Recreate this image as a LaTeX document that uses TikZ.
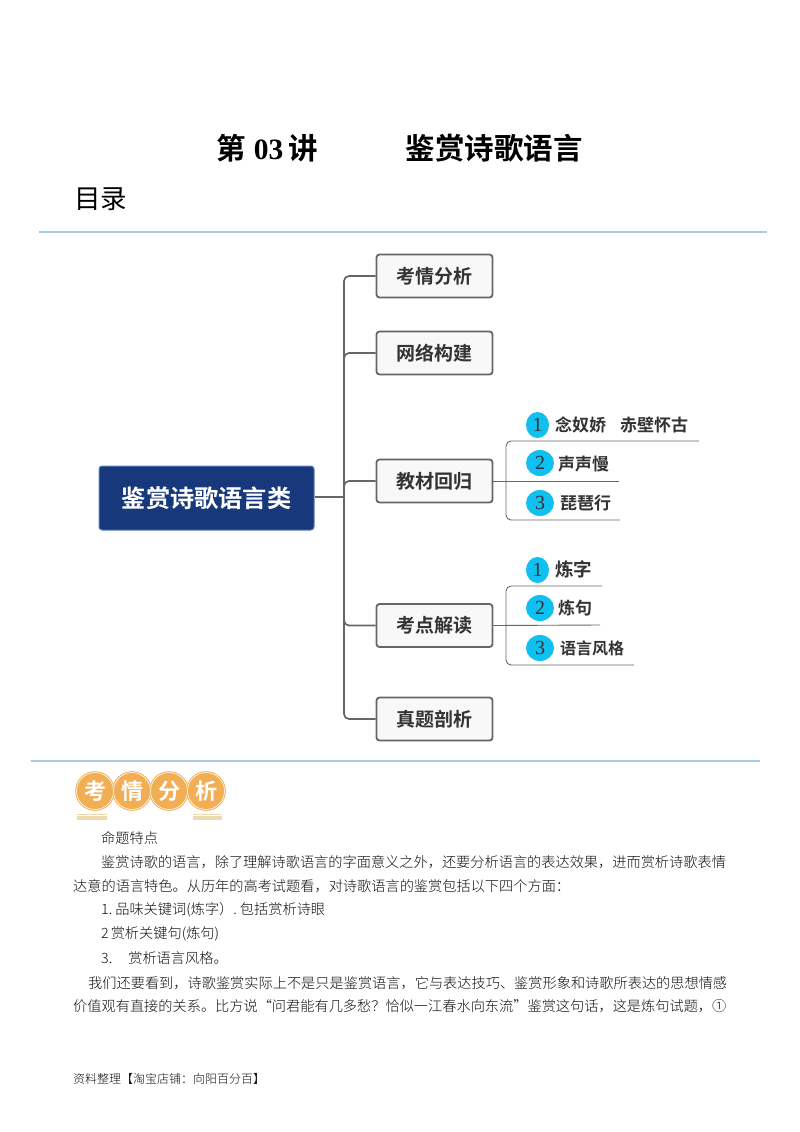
\documentclass[tikz,border=0pt]{standalone}
\usepackage{fontspec}
\usetikzlibrary{shapes.geometric}
\setmainfont{Liberation Serif}
\newfontfamily\cjkreg{Noto Sans CJK SC}
\newfontfamily\cjklight{Noto Sans CJK SC Light}
\newfontfamily\cjkbold{Noto Sans CJK SC Bold}
\newfontfamily\titlelatin{Liberation Serif Bold}
\newcommand{\fsz}[1]{\fontsize{#1}{#1}\selectfont}
\begin{document}
\begin{tikzpicture}[x=1pt,y=-1pt,
 rootbox/.style={fill=rootcolor,draw=rootedge,line width=1pt,rounded corners=3pt,minimum width=215pt,minimum height=64pt,inner sep=0pt,text=white,font=\cjkbold\fsz{24.2}},
 topicbox/.style={fill=boxcolor,draw=branchcolor,line width=1.8pt,rounded corners=3pt,minimum width=116pt,minimum height=43pt,inner sep=0pt,text=inkcolor,font=\cjkbold\fsz{19}},
 branch/.style={draw=branchcolor,line width=1.7pt,rounded corners=5pt},
 twig/.style={draw=branchcolor,line width=0.9pt,rounded corners=5pt},
 numdot/.style={ellipse,fill=dotcolor,minimum width=28pt,minimum height=26pt,inner sep=0pt,text=inkcolor,font=\fsz{20}},
 leaf/.style={anchor=west,inner sep=0pt,text=inkcolor,font=\cjkbold\fsz{17}},
 coin/.style={circle,fill=coincolor,draw=coincolor,line width=1pt,double=white,minimum size=37pt,inner sep=0pt,text=white,font=\cjkbold\fsz{22}},
 bodyline/.style={anchor=west,inner sep=0pt,text=bodycolor,font=\cjklight\fsz{14.2}},
 rule/.style={draw=rulecolor,line width=1.2pt}]
 \definecolor{rootcolor}{HTML}{17397C}
 \definecolor{rootedge}{HTML}{5F80BC}
 \definecolor{boxcolor}{HTML}{F8F8F8}
 \definecolor{branchcolor}{HTML}{666666}
 \definecolor{inkcolor}{HTML}{333333}
 \definecolor{dotcolor}{HTML}{0FC0F0}
 \definecolor{coincolor}{HTML}{F2AE55}
 \definecolor{stripecolor}{HTML}{EFD9B0}
 \definecolor{bodycolor}{HTML}{111111}
 \definecolor{rulecolor}{HTML}{A9C8E4}
 \path[fill=white,use as bounding box] (0,0) rectangle (800,1132);
 % heading
 \node [inner sep=0pt,font=\cjkbold\fsz{29.5}] (lecture) at (267,148) {第\hspace{1pt}{\titlelatin\fsz{29.5} 03}\hspace{5pt}讲};
 \node [inner sep=0pt,font=\cjkbold\fsz{29.5}] (subject) at (494,148) {鉴赏诗歌语言};
 \node [anchor=west,inner sep=0pt,font=\cjkreg\fsz{26.5}] (toc) at (74,199) {目录};
 \coordinate (ruleAl) at (39,232);
 \coordinate (ruleAr) at (767,232);
 \draw [rule] (ruleAl) -- (ruleAr);
 % mind map
 \node [rootbox] (root) at (206.5,498) {\raisebox{-2pt}{鉴赏诗歌语言类}};
 \node [topicbox] (exam) at (434.5,276) {考情分析};
 \node [topicbox] (net) at (434.5,353) {网络构建};
 \node [topicbox] (book) at (434.5,481) {教材回归};
 \node [topicbox] (point) at (434.5,625.5) {考点解读};
 \node [topicbox] (real) at (434.5,719) {真题剖析};
 \coordinate (trunk) at (344,497);
 \draw [branch,rounded corners=0pt] (root.east |- trunk) -- (trunk);
 \foreach \topic in {exam,net,book,point,real}
  \draw [branch] (trunk) |- (\topic.west);
 % first group of leaves
 \coordinate (forkA) at (506,481);
 \coordinate (bookA) at (699,441);
 \coordinate (bookB) at (619,481);
 \coordinate (bookC) at (620,520);
 \draw [twig] (forkA) |- (bookA);
 \draw [twig] (forkA) |- (bookC);
 \draw [twig] (book.east) -- (bookB);
 \node [numdot,minimum width=23pt] (bookdotA) at (537.5,425) {1};
 \node [numdot] (bookdotB) at (540,463) {2};
 \node [numdot] (bookdotC) at (540,503) {3};
 \node [leaf] (bookleafA) at (555,425) {念奴娇\hspace{14pt}赤壁怀古};
 \node [leaf] (bookleafB) at (558,464) {声声慢};
 \node [leaf] (bookleafC) at (560,503) {琵琶行};
 % second group of leaves
 \coordinate (forkB) at (506,625);
 \coordinate (pointA) at (602,586);
 \coordinate (pointB) at (600,625);
 \coordinate (pointC) at (634,665);
 \draw [twig] (forkB) |- (pointA);
 \draw [twig] (forkB) |- (pointC);
 \draw [twig] (point.east) -- (pointB);
 \node [numdot,minimum width=23pt] (pointdotA) at (537.5,570) {1};
 \node [numdot] (pointdotB) at (540,608) {2};
 \node [numdot] (pointdotC) at (540,648) {3};
 \node [leaf,font=\cjkbold\fsz{18.5}] (pointleafA) at (555,569) {炼字};
 \node [leaf] (pointleafB) at (558,608) {炼句};
 \node [leaf,font=\cjkbold\fsz{16}] (pointleafC) at (560,648) {语言风格};
 \coordinate (ruleBl) at (31,761);
 \coordinate (ruleBr) at (760,761);
 \draw [rule] (ruleBl) -- (ruleBr);
 % badge
 \foreach \y in {814.5,816.8,819.1} {
  \draw [stripecolor,line width=1.4pt] (77,\y) -- (107,\y);
  \draw [stripecolor,line width=1.4pt] (193,\y) -- (222,\y);
 }
 \node [coin] (coinA) at (95,791) {考};
 \node [coin] (coinB) at (132,791) {情};
 \node [coin] (coinC) at (169,791) {分};
 \node [coin] (coinD) at (206,791) {析};
 % running text
 \node [bodyline] (lineA) at (101,838) {命题特点};
 \node [bodyline] (lineB) at (101,862) {鉴赏诗歌的语言，除了理解诗歌语言的字面意义之外，还要分析语言的表达效果，进而赏析诗歌表情};
 \node [bodyline] (lineC) at (73,886) {达意的语言特色。从历年的高考试题看，对诗歌语言的鉴赏包括以下四个方面：};
 \node [bodyline] (lineD) at (101,910) {1.\hspace{3pt}品味关键词(炼字）.\hspace{3pt}包括赏析诗眼};
 \node [bodyline] (lineE) at (101,934) {2\hspace{2pt}赏析关键句(炼句)};
 \node [bodyline] (lineF) at (101,958) {3.\hspace{16pt}赏析语言风格。};
 \node [bodyline] (lineG) at (88,983) {我们还要看到，诗歌鉴赏实际上不是只是鉴赏语言，它与表达技巧、鉴赏形象和诗歌所表达的思想情感};
 \node [bodyline] (lineH) at (73,1006) {价值观有直接的关系。比方说“问君能有几多愁？恰似一江春水向东流”鉴赏这句话，这是炼句试题，①};
 \node [bodyline,font=\cjklight\fsz{12}] (source) at (73,1079) {资料整理【淘宝店铺：向阳百分百】};
\end{tikzpicture}
\end{document}
